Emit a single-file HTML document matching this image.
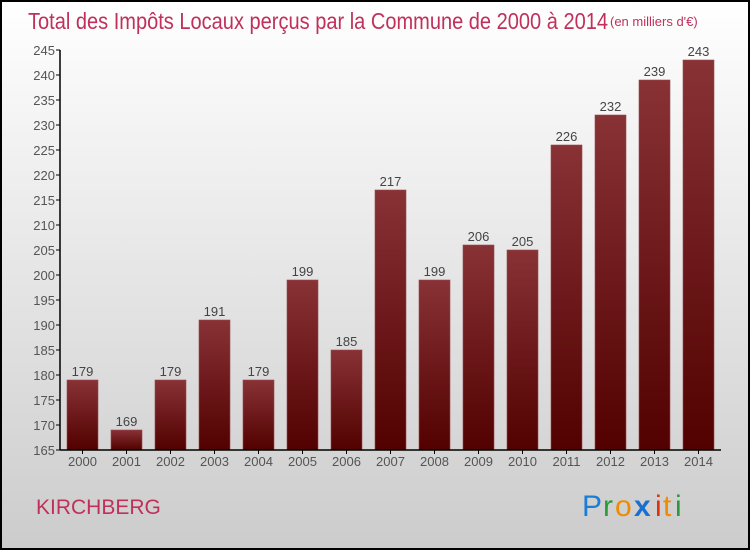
<!DOCTYPE html>
<html><head><meta charset="utf-8"><style>
html,body{margin:0;padding:0;width:750px;height:550px;overflow:hidden}
svg{display:block;font-family:"Liberation Sans",sans-serif}
</style></head><body>
<svg width="750" height="550" viewBox="0 0 750 550">
<defs>
<linearGradient id="bg" x1="0" y1="0" x2="0" y2="1"><stop offset="0" stop-color="#ffffff"/><stop offset="1" stop-color="#cccccc"/></linearGradient>
<linearGradient id="bar" x1="0" y1="0" x2="0" y2="1"><stop offset="0" stop-color="#883236"/><stop offset="1" stop-color="#520000"/></linearGradient>
</defs>
<rect x="1" y="1" width="748" height="548" fill="url(#bg)" stroke="#000" stroke-width="2"/>
<text x="28" y="29" font-size="23" fill="#c0305a" textLength="580" lengthAdjust="spacingAndGlyphs">Total des Impôts Locaux perçus par la Commune de 2000 à 2014</text>
<text x="610" y="26" font-size="13" fill="#c0305a">(en milliers d'€)</text>
<g id="plot"></g>
<text x="36" y="514" font-size="21" fill="#c0305a">KIRCHBERG</text>
<g font-size="30">
<text x="582" y="516" fill="#1a7fd4">P</text><text x="603" y="516" fill="#2a9a3a">r</text><text x="615" y="516" fill="#f08a00">o</text><text x="634" y="516" fill="#1a70d0" font-weight="bold">x</text><text x="655" y="516" fill="#e03010">i</text><text x="663" y="516" fill="#f08a00">t</text><text x="675" y="516" fill="#2a9a3a">i</text>
</g>
</svg>
<script>
const years=["2000","2001","2002","2003","2004","2005","2006","2007","2008","2009","2010","2011","2012","2013","2014"];
const values=[179,169,179,191,179,199,185,217,199,206,205,226,232,239,243];
const yTicks=[165,170,175,180,185,190,195,200,205,210,215,220,225,230,235,240,245];
const NS="http://www.w3.org/2000/svg";
const g=document.getElementById('plot');
const y0=450,yMin=165,scale=5,x0=60,step=44,bw=31;
const ys=v=>y0-(v-yMin)*scale;
const xs=i=>x0+7+i*step;
function mk(t,a){const e=document.createElementNS(NS,t);for(const k in a)e.setAttribute(k,a[k]);g.appendChild(e);return e;}
yTicks.forEach(v=>{
 const t=mk('line',{x1:x0-4,x2:x0,y1:ys(v),y2:ys(v),stroke:'#000'});
 
 
 const l=mk('text',{x:x0-5,y:ys(v)+5,'font-size':13,fill:'#555','text-anchor':'end'});
 l.textContent=v;
 
 
});
values.forEach((v,i)=>{
 const r=mk('rect',{x:xs(i),y:ys(v),width:bw,height:y0-ys(v),fill:'url(#bar)',stroke:'#9a4a4e','stroke-width':0.6});
 
 
 const t=mk('text',{x:xs(i)+bw/2,y:ys(v)-4,'font-size':13,fill:'#444','text-anchor':'middle'});
 t.textContent=v;
 
 
 const k=mk('line',{x1:xs(i)+bw/2,x2:xs(i)+bw/2,y1:y0,y2:y0+4,stroke:'#000'});
 
 
 const xl=mk('text',{x:xs(i)+bw/2,y:y0+16,'font-size':13,fill:'#555','text-anchor':'middle'});
 xl.textContent=years[i];
 
 
});
const ya=mk('line',{x1:x0,x2:x0,y1:ys(245),y2:y0,stroke:'#000','stroke-width':1.5});


const xa=mk('line',{x1:x0,x2:721,y1:y0,y2:y0,stroke:'#000','stroke-width':1.5});


</script>
</body></html>
